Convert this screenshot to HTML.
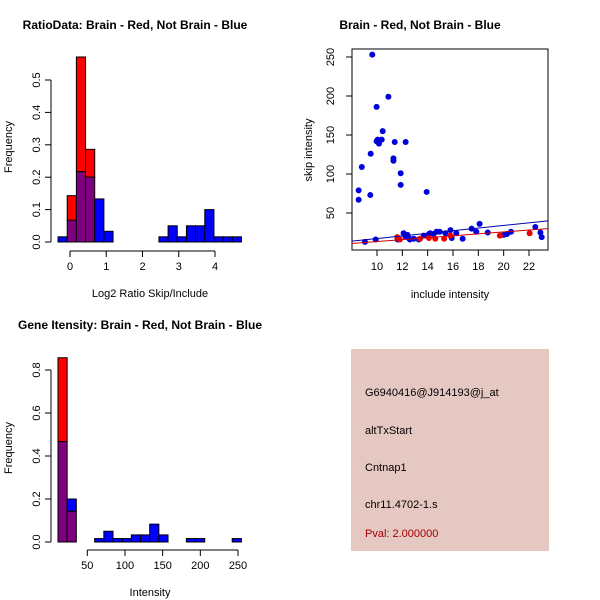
<!DOCTYPE html>
<html><head><meta charset="utf-8"><style>
body{margin:0;background:#fff}
svg{display:block;font-family:"Liberation Sans",Arial,sans-serif}
</style></head><body>
<svg id="s" width="600" height="600" viewBox="0 0 600 600">
<rect width="600" height="600" fill="#fff"/>
<text x="135" y="29" font-size="12" font-weight="bold" text-anchor="middle">RatioData: Brain - Red, Not Brain - Blue</text>
<text x="420" y="29" font-size="12" font-weight="bold" text-anchor="middle">Brain - Red, Not Brain - Blue</text>
<text x="140" y="329" font-size="12" font-weight="bold" text-anchor="middle">Gene Itensity: Brain - Red, Not Brain - Blue</text>
<g id="g1"></g>
<g id="g2"></g>
<g id="g3"></g>
<g>
<rect x="351" y="349" width="198" height="202" fill="#e6c8c2"/>
<text x="365" y="396" font-size="11">G6940416@J914193@j_at</text>
<text x="365" y="434" font-size="11">altTxStart</text>
<text x="365" y="471" font-size="11">Cntnap1</text>
<text x="365" y="508" font-size="11">chr11.4702-1.s</text>
<text x="365" y="537" font-size="11" fill="#a00000">Pval: 2.000000</text>
</g>
</svg>
<script>
// ratio histogram data
const ratioBinStart = -0.33, ratioBinWidth = 0.253;
const ratioBlue = [0.016,0.067,0.217,0.2,0.133,0.033,0,0,0,0,0,0.016,0.05,0.016,0.05,0.05,0.1,0.016,0.016,0.016];
const ratioRed = [0,0.143,0.571,0.286,0,0,0,0,0,0,0,0,0,0,0,0,0,0,0,0];
const ratioXTicks = [0,1,2,3,4];
const ratioYTicks = [0,0.1,0.2,0.3,0.4,0.5];
// intensity histogram data
const intBinStart = 11.1, intBinWidth = 12.17;
const intBlue = [0.467,0.2,0,0,0.016,0.05,0.016,0.016,0.033,0.033,0.083,0.033,0,0,0.016,0.016,0,0,0,0.016];
const intRed = [0.857,0.143,0,0,0,0,0,0,0,0,0,0,0,0,0,0,0,0,0,0];
const intXTicks = [50,100,150,200,250];
const intYTicks = [0,0.2,0.4,0.6,0.8];
// scatter data
const blueX = [8.55,8.55,8.8,9.63,9.97,10.9,9.47,9.5,9.97,10.05,10.16,10.37,10.45,11.4,12.26,11.3,11.3,11.87,11.87,13.92,9.9,9.05,11.63,12.1,12.24,12.4,12.5,12.6,12.9,13.3,13.7,14.1,14.2,14.47,14.7,14.95,15.4,15.8,15.9,16.26,16.76,17.47,17.84,18.1,18.74,20,20.26,20.58,22.5,22.9,23];
const blueY = [79,67,109,253,186,199,73,126,142,144,139,144,155,141,141,120,117,101,86,77,16,13,16,24,20,22,18,16,17,16,21,23,24,23,26,26,24,28,18,24,17,30,26,36,25,22,23,26,32,25,19];
const redX = [11.6,11.8,13.4,14.1,14.6,15.3,15.8,22.05,19.7];
const redY = [19,16,17,18,17,17,21,24,21];
const blueFit = [0.5,1.68];
const redFit = [1.1,1.23];
const scXTicks = [10,12,14,16,18,20,22];
const scYTicks = [50,100,150,200,250];

const NS="http://www.w3.org/2000/svg";
function mk(p,t,a){const e=document.createElementNS(NS,t);for(const k in a)e.setAttribute(k,a[k]);p.appendChild(e);return e;}

function hist(g,o){
  const X=v=>o.x0+(v-o.xz)*o.xs, Y=v=>o.y0-v*o.ys;
  for(let i=0;i<o.blue.length;i++){
    const b=o.blue[i], r=o.red[i];
    const xa=X(o.bs+i*o.bw), xb=X(o.bs+(i+1)*o.bw);
    const lo=Math.min(b,r), hi=Math.max(b,r);
    if(hi>0){
      const e=mk(g,'rect',{x:xa,y:Y(hi),width:xb-xa,height:Y(lo)-Y(hi),fill:r>b?'#ff0000':'#0000ff',stroke:'#000','stroke-width':1});
      
      
    }
    if(lo>0){
      const e=mk(g,'rect',{x:xa,y:Y(lo),width:xb-xa,height:Y(0)-Y(lo),fill:'#7f007f',stroke:'#000','stroke-width':1});
      
      
    }
  }
  const ax=mk(g,'g',{});
  
  
  const t=o.xt;
  mk(ax,'line',{x1:X(t[0]),x2:X(t[t.length-1]),y1:o.ay,y2:o.ay,stroke:'#000'});
  t.forEach(v=>{mk(ax,'line',{x1:X(v),x2:X(v),y1:o.ay,y2:o.ay+6,stroke:'#000'});
    const tx=mk(ax,'text',{x:X(v),y:o.ay+19,'font-size':11,'text-anchor':'middle'});tx.textContent=v;});
  const xl=mk(g,'text',{x:o.xlx,y:o.ay+46,'font-size':11,'text-anchor':'middle'});xl.textContent=o.xlab;
  
  
  const ay=mk(g,'g',{});
  
  
  const yt=o.yt;
  mk(ay,'line',{x1:o.ax,x2:o.ax,y1:Y(yt[0]),y2:Y(yt[yt.length-1]),stroke:'#000'});
  yt.forEach(v=>{mk(ay,'line',{x1:o.ax,x2:o.ax-6,y1:Y(v),y2:Y(v),stroke:'#000'});
    const tx=mk(ay,'text',{x:o.ax-11,y:Y(v),'font-size':11,'text-anchor':'middle',transform:`rotate(-90 ${o.ax-11} ${Y(v)})`});tx.textContent=v.toFixed(1);});
  const yl=mk(g,'text',{x:12,y:o.ylY,'font-size':11,'text-anchor':'middle',transform:`rotate(-90 12 ${o.ylY})`});yl.textContent='Frequency';
  
  
}
hist(document.getElementById('g1'),{x0:70,xz:0,xs:36.25,y0:242,ys:324,bs:ratioBinStart,bw:ratioBinWidth,blue:ratioBlue,red:ratioRed,xt:ratioXTicks,yt:ratioYTicks,ay:251,ax:51,xlab:'Log2 Ratio Skip/Include',xlx:150,ylY:147});
hist(document.getElementById('g3'),{x0:87.3,xz:50,xs:0.7535,y0:542,ys:215,bs:intBinStart,bw:intBinWidth,blue:intBlue,red:intRed,xt:intXTicks,yt:intYTicks,ay:550,ax:51,xlab:'Intensity',xlx:150,ylY:448});

(function(){
  const g=document.getElementById('g2');
  const X=v=>377+(v-10)*12.667, Y=v=>252-v*0.78;
  mk(g,'rect',{x:352,y:49,width:196,height:201,fill:'none',stroke:'#000'});
  const L=(f,c,n)=>{const e=mk(g,'line',{x1:352,x2:548,y1:Y(f[0]+f[1]*(10+(352-377)/12.667)),y2:Y(f[0]+f[1]*(10+(548-377)/12.667)),stroke:c,'stroke-width':1});
    };
  blueX.forEach((x,i)=>{const c=mk(g,'circle',{cx:X(x),cy:Y(blueY[i]),r:3,fill:'#0000dd'});
    
    });
  redX.forEach((x,i)=>{const c=mk(g,'circle',{cx:X(x),cy:Y(redY[i]),r:3,fill:'#ee0000'});
    
    });
  L(blueFit,'#0000aa','fit-line-blue');
  L(redFit,'#cc0000','fit-line-red');
  scXTicks.forEach(v=>{mk(g,'line',{x1:X(v),x2:X(v),y1:250,y2:256,stroke:'#000'});
    const t=mk(g,'text',{x:X(v),y:270,'font-size':11,'text-anchor':'middle'});t.textContent=v;});
  scYTicks.forEach(v=>{mk(g,'line',{x1:352,x2:346,y1:Y(v),y2:Y(v),stroke:'#000'});
    const t=mk(g,'text',{x:334,y:Y(v),'font-size':11,'text-anchor':'middle',transform:`rotate(-90 334 ${Y(v)})`});t.textContent=v;});
  const xl=mk(g,'text',{x:450,y:298,'font-size':11,'text-anchor':'middle'});xl.textContent='include intensity';
  
  
  const yl=mk(g,'text',{x:312,y:150,'font-size':11,'text-anchor':'middle',transform:'rotate(-90 312 150)'});yl.textContent='skip intensity';
  
  
})();
</script>
</body></html>
